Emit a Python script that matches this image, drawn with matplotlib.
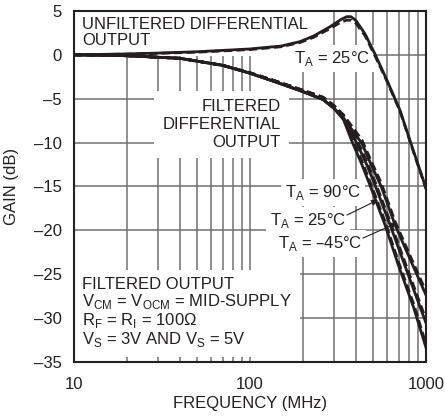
import matplotlib
matplotlib.use("Agg")
import matplotlib.pyplot as plt
from matplotlib.ticker import FixedLocator, NullFormatter

plt.rcParams['font.family'] = ['Liberation Sans', 'DejaVu Sans']

# ---- data ----
freq_unf = [10, 20, 30, 50, 100, 150, 192, 230, 285, 330, 355, 375, 400, 450, 510, 600, 711, 850, 1000]
gain_unf_solid = [0, 0.1, 0.2, 0.35, 0.67, 1.0, 1.5, 2.15, 3.2, 4.05, 4.35, 4.35, 3.9, 2.4, 0.2, -2.9, -6.3, -11.0, -15.2]
gain_unf_dash = [0, 0.08, 0.17, 0.3, 0.6, 0.92, 1.4, 2.0, 3.0, 3.75, 3.95, 3.95, 3.6, 2.2, 0.0, -3.0, -6.4, -11.1, -15.3]

freq_f90 = [10, 20, 40, 70, 100, 140, 200, 260, 300, 340, 380, 430, 480, 585, 700, 850, 1000]
gain_f90 = [0, -0.1, -0.4, -1.2, -2.1, -3.1, -4.2, -5.1, -6.1, -7.4, -9.9, -12.4, -14.85, -19.4, -24.1, -28.8, -33.4]
freq_f25 = [10, 20, 40, 70, 100, 140, 200, 260, 300, 340, 405, 460, 513, 625, 800, 1000]
gain_f25 = [0, -0.1, -0.4, -1.2, -2.1, -3.1, -4.2, -5.1, -6.1, -7.3, -10.1, -12.5, -14.85, -19.4, -25.3, -30.6]
freq_fm45 = [10, 20, 40, 70, 100, 140, 200, 260, 300, 340, 432, 490, 556, 667, 820, 1000]
gain_fm45 = [0, -0.1, -0.4, -1.2, -2.1, -3.1, -4.2, -5.1, -6.1, -7.2, -10.1, -12.6, -15.0, -19.4, -23.5, -27.4]
# dashed (second supply) offsets of the filtered curves, dB
dash_offset = [0, 0, 0, 0, 0.05, 0.1, 0.15, 0.25, 0.3, 0.35, 0.4, 0.4, 0.4, 0.4, 0.4, 0.4, 0.4]

yticks = [5, 0, -5, -10, -15, -20, -25, -30, -35]
ytick_labels = ['5', '0', '\u20135', '\u201310', '\u201315', '\u201320', '\u201325', '\u201330', '\u201335']
xticks = [10, 100, 1000]
xtick_labels = ['10', '100', '1000']
xminor = [20, 30, 40, 50, 60, 70, 80, 90, 200, 300, 400, 500, 600, 700, 800, 900]

INK = '#231f20'
GRID = '#707070'
FS = 12

fig = plt.figure(figsize=(4.45, 4.16), dpi=100)
ax = fig.add_axes([0.1663, 0.1305, 0.791, 0.8431])
ax.set_xscale('log')
ax.set_xlim(10, 1000)
ax.set_ylim(-35, 5)
ax.set_yticks(yticks)
ax.set_yticklabels(ytick_labels, fontsize=FS)
ax.xaxis.set_major_locator(FixedLocator(xticks))
ax.set_xticklabels(xtick_labels, fontsize=FS)
ax.xaxis.set_minor_locator(FixedLocator(xminor))
ax.xaxis.set_minor_formatter(NullFormatter())
ax.tick_params(which='both', length=0, labelcolor=INK)
ax.tick_params(axis='y', pad=9)
ax.tick_params(axis='x', pad=11)
ax.set_axisbelow(True)
ax.grid(which='both', color=GRID, lw=1.1)
for s in ax.spines.values():
    s.set_color(INK)
    s.set_linewidth(1.5)

lw = 2.0
ax.plot(freq_unf, gain_unf_dash, color=INK, lw=lw, ls=(0, (3, 1.5)), zorder=3)
ax.plot(freq_unf, gain_unf_solid, color=INK, lw=lw, zorder=3)
for fr, g in [(freq_f90, gain_f90), (freq_f25, gain_f25), (freq_fm45, gain_fm45)]:
    ax.plot(fr, g, color=INK, lw=lw, zorder=3)
    gd = [gi + dash_offset[min(i, len(dash_offset) - 1)] for i, gi in enumerate(g)]
    ax.plot(fr, gd, color=INK, lw=lw, ls=(0, (3, 1.5)), zorder=3)

box = dict(facecolor='white', edgecolor='none', pad=3)
bigbox = dict(facecolor='white', edgecolor='none', pad=6)
ax.text(11.1, 4.3, 'UNFILTERED DIFFERENTIAL\nOUTPUT', fontsize=FS, va='top', ha='left',
        linespacing=1.05, color=INK, bbox=bigbox, zorder=2, clip_on=True)
ax.text(178, -0.93, 'T$_{\\mathregular{A}}$ = 25\u00b0C', fontsize=FS, va='baseline', ha='left',
        color=INK, bbox=box, zorder=2)
ax.text(150, -7.95, 'FILTERED\nDIFFERENTIAL\nOUTPUT', fontsize=FS, va='center', ha='right',
        multialignment='right', linespacing=1.25, color=INK, bbox=bigbox, zorder=2)
ax.text(158, -16.2, 'T$_{\\mathregular{A}}$ = 90\u00b0C', fontsize=FS, va='baseline', ha='left',
        color=INK, bbox=box, zorder=2)
ax.text(130, -19.4, 'T$_{\\mathregular{A}}$ = 25\u00b0C', fontsize=FS, va='baseline', ha='left',
        color=INK, bbox=box, zorder=2)
ax.text(144, -22.0, 'T$_{\\mathregular{A}}$ = \u201345\u00b0C', fontsize=FS, va='baseline', ha='left',
        color=INK, bbox=box, zorder=2)
ax.text(11.1, -25.3, 'FILTERED OUTPUT\n'
        'V$_{\\mathregular{CM}}$ = V$_{\\mathregular{OCM}}$ = MID-SUPPLY\n'
        'R$_{\\mathregular{F}}$ = R$_{\\mathregular{I}}$ = 100\u03a9\n'
        'V$_{\\mathregular{S}}$ = 3V AND V$_{\\mathregular{S}}$ = 5V',
        fontsize=FS, va='top', ha='left', color=INK, linespacing=1.0,
        bbox=bigbox, zorder=2, clip_on=True)

arrow = dict(arrowstyle='-|>', color=INK, lw=0.8, mutation_scale=9, shrinkA=0, shrinkB=0)
ax.annotate('', xy=(533, -16.55), xytext=(356, -18.27), arrowprops=arrow, zorder=4)
ax.annotate('', xy=(684, -19.18), xytext=(438, -20.9), arrowprops=arrow, zorder=4)

ax.set_xlabel('FREQUENCY (MHz)', fontsize=FS, color=INK)
ax.set_ylabel('GAIN (dB)', fontsize=FS, color=INK)
ax.xaxis.set_label_coords(0.5, -0.098)
ax.yaxis.set_label_coords(-0.155, 0.5)

fig.savefig('out.png', dpi=100)
